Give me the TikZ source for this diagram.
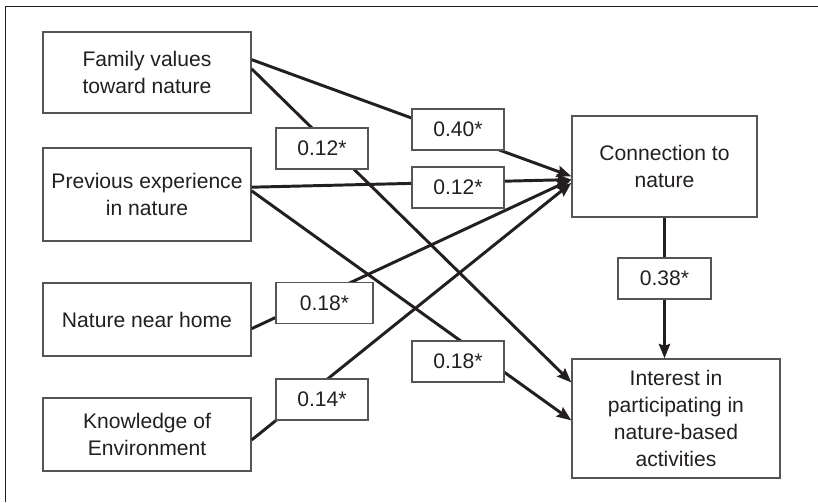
\documentclass[tikz,border=0pt]{standalone}
\usepackage{fontspec}
\setmainfont{Liberation Sans}
\usetikzlibrary{arrows.meta}
\definecolor{PathInk}{RGB}{35,31,32}
\definecolor{BoxLine}{RGB}{85,85,85}

\begin{document}
\begin{tikzpicture}[x=0.025cm,y=-0.025cm,>={Stealth[length=0.36cm,width=0.28cm,inset=0.05cm]},
    var/.style={draw=BoxLine,line width=0.9pt,minimum width=5.2cm,align=center,text=PathInk,font=\fontsize{15}{19}\selectfont,inner sep=0pt},
    coef/.style={draw=BoxLine,line width=0.9pt,fill=white,minimum width=2.3cm,minimum height=1.025cm,text=PathInk,font=\fontsize{15}{19}\selectfont,inner sep=0pt},
    link/.style={->,line width=2.1pt,PathInk}]
      \useasboundingbox (0,0) rectangle (818,502);
      \draw[PathInk,line width=0.7pt] (5,502) -- (5,6) -- (818,6);
      % variables
      \node[var,minimum height=2.025cm] (fam) at (147,72.5) {Family values\\toward nature};
      \node[var,minimum height=2.325cm] (prv) at (147,194.5) {Previous experience\\in nature};
      \node[var,minimum height=1.825cm] (nnh) at (147,319.5) {Nature near home};
      \node[var,minimum height=1.825cm] (kno) at (147,434.5) {Knowledge of\\Environment};
      \node[var,minimum width=4.625cm,minimum height=2.525cm] (cn) at (664.5,166.5) {Connection to\\nature};
      \node[var,minimum height=2.975cm] (ia) at (676,418.5) {Interest in\\participating in\\nature-based\\activities};
      % paths
      \draw[link] (fam.7) -- (cn.186.5);
      \draw[link] (fam.2.5) -- (ia.161);
      \draw[link] (prv.4.7) -- (cn.188.3);
      \draw[link] (prv.2.5) -- (ia.181);
      \draw[link] (nnh.-5.2) -- (cn.188.9);
      \draw[link] (kno.-3) -- (cn.190.1);
      \draw[link] (cn.south) -- (cn.south |- ia.north);
      % coefficients
      \node[coef] (c40) at (458,129.5) {0.40*};
      \node[coef] (c12a) at (322,148.5) {0.12*};
      \node[coef] (c12b) at (458,187.5) {0.12*};
      \node[coef,minimum width=2.425cm] (c18a) at (324.5,303) {0.18*};
      \node[coef] (c14) at (322,399.5) {0.14*};
      \node[coef,minimum width=2.325cm] (c38) at (664.5,278.5) {0.38*};
      \node[coef] (c18b) at (458,361.5) {0.18*};
    \end{tikzpicture}
\end{document}
